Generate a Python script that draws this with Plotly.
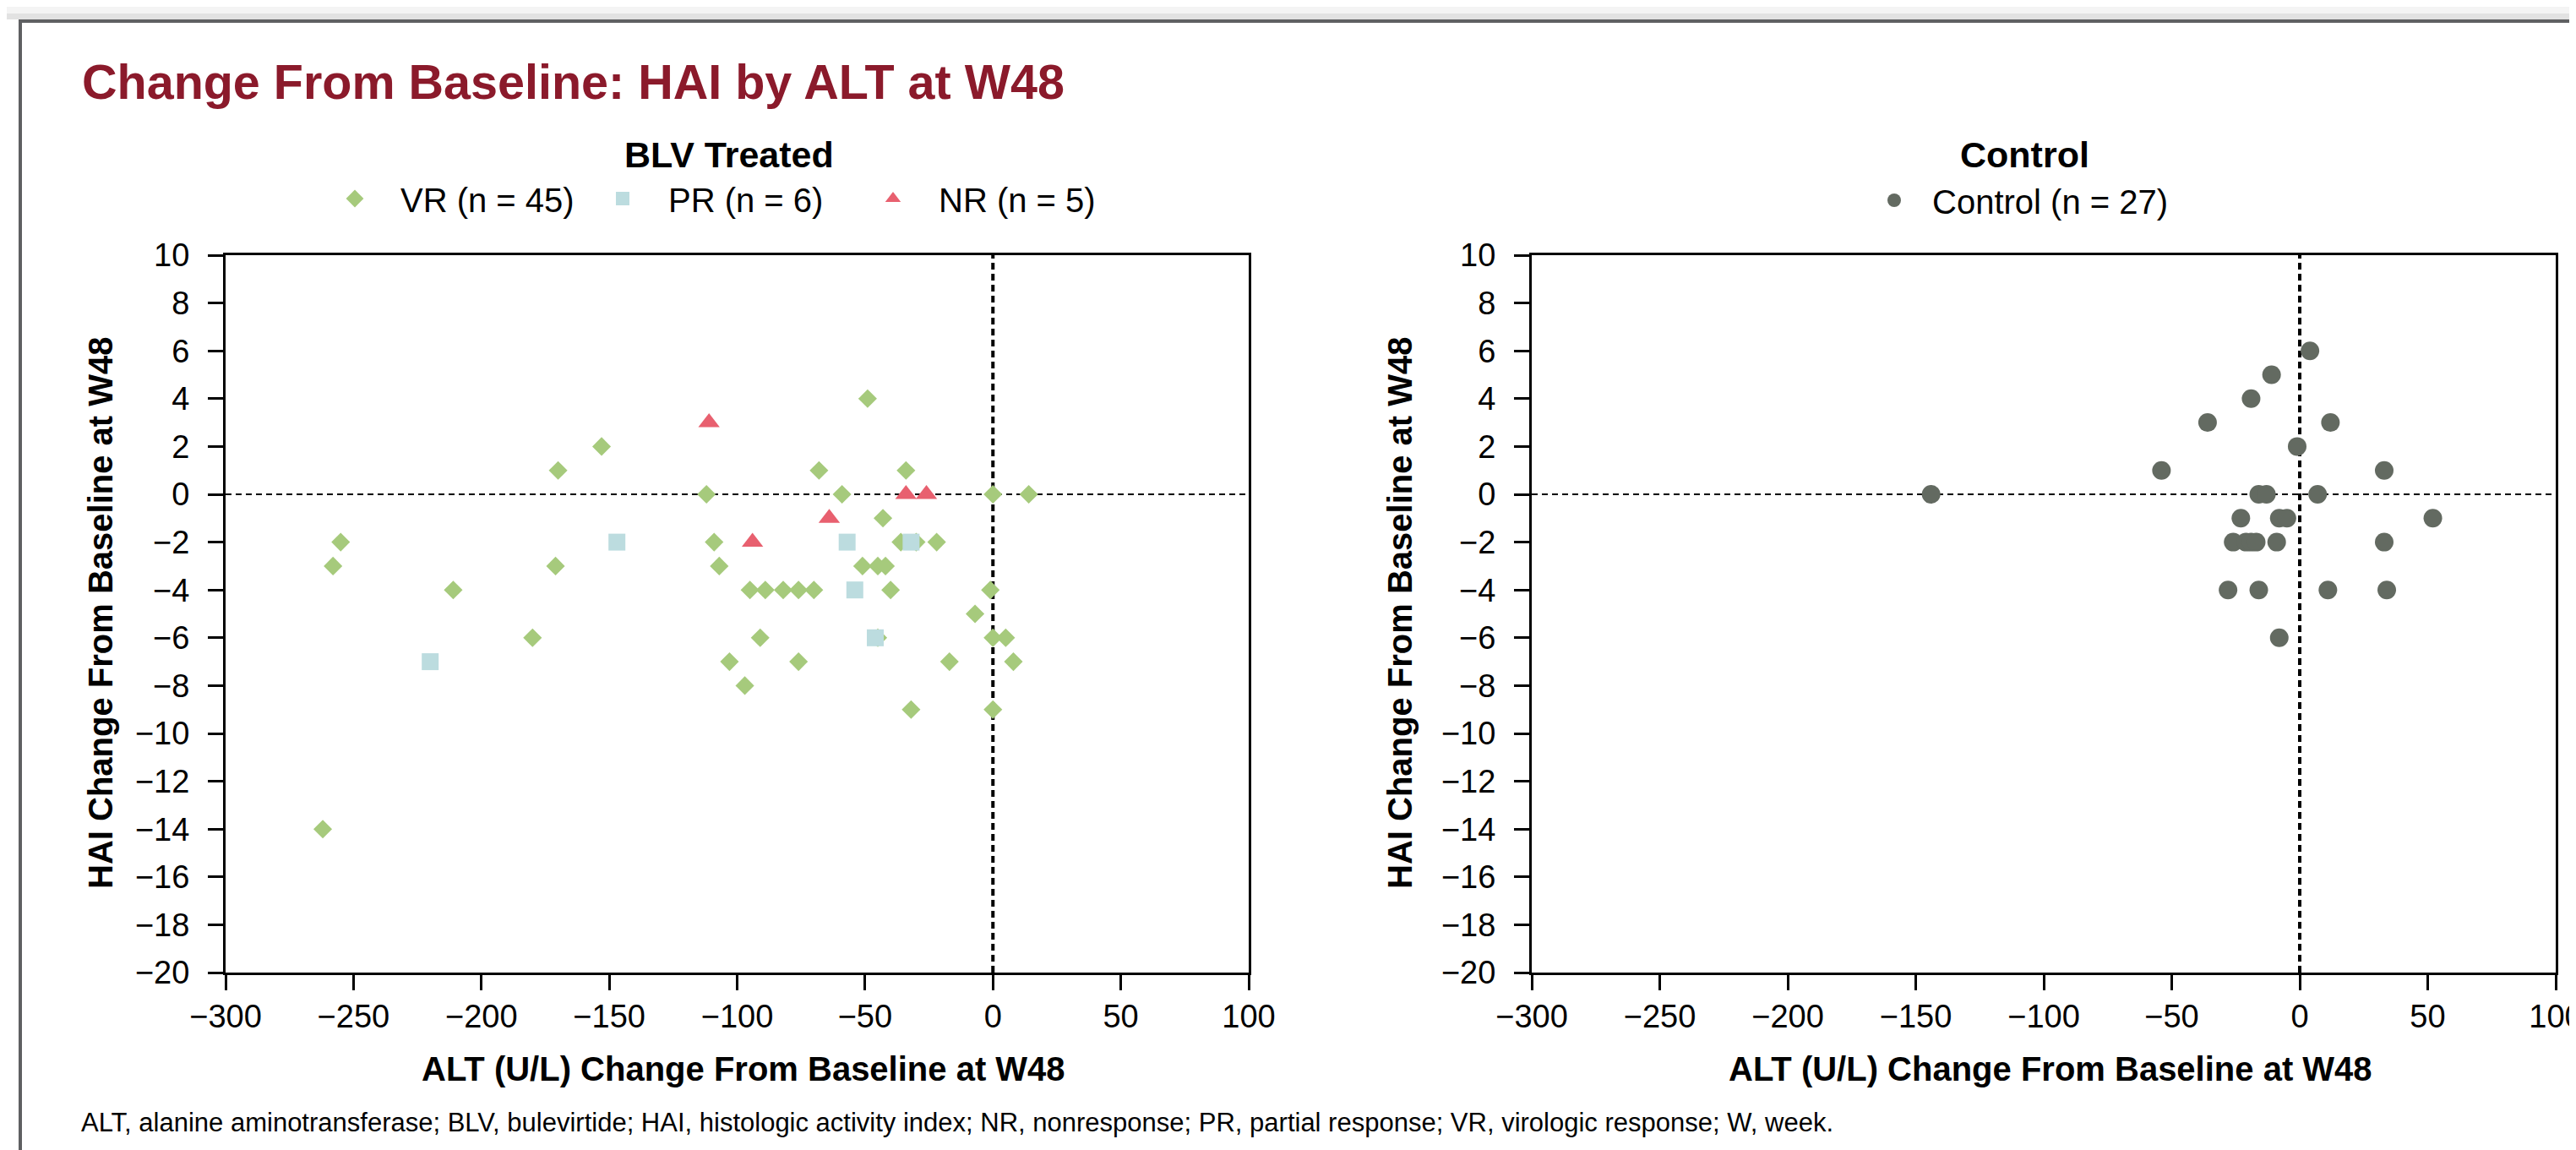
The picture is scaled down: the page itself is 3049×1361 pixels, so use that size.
import plotly.graph_objects as go

W, H = 3049, 1361

# ---------------- data ----------------
vr_alt = [-262, -255, -258, -211, -180, -170, -153, -171, -112, -109, -107,
          -95, -89, -82, -76, -70, -91, -103, -97, -49, -68, -34, -59, 0, 14,
          -43, -36, -30, -22, -51, -45, -42, -40, -1, -7, 0, 5, -76, -17, 8,
          -32, 0, -45]
vr_hai = [-14, -2, -3, -4, -6, 1, 2, -3, 0, -2, -3,
          -4, -4, -4, -4, -4, -6, -7, -8, 4, 1, 1, 0, 0, 0,
          -1, -2, -2, -2, -3, -3, -3, -4, -4, -5, -6, -6, -7, -7, -7,
          -9, -9, -6]

pr_alt = [-220, -147, -57, -32, -54, -46]
pr_hai = [-7, -2, -2, -2, -4, -6]

nr_alt = [-111, -94, -64, -34, -26]
nr_hai = [3, -2, -1, 0, 0]

ctrl_alt = [4, -11, -19, -36, 12, -1, 33, -54,
            -144, -16, -13, 7,
            -23, -8, -5, 52,
            -26, -21, -19, -17, -9, 33,
            -28, -16, 11, 34,
            -8]
ctrl_hai = [6, 5, 4, 3, 3, 2, 1, 1,
            0, 0, 0, 0,
            -1, -1, -1, -1,
            -2, -2, -2, -2, -2, -2,
            -4, -4, -4, -4,
            -6]

x_ticks = [-300, -250, -200, -150, -100, -50, 0, 50, 100]
y_ticks = list(range(-20, 11, 2))

names = ["VR (n = 45)", "PR (n = 6)", "NR (n = 5)", "Control (n = 27)"]

# ---------------- styling ----------------
FONT = "Liberation Sans, Arial, Helvetica, sans-serif"
C_VR = "#a6ca7c"
C_PR = "#bcdcdf"
C_NR = "#e8606f"
C_CTRL = "#636a61"
C_TITLE = "#8b1a2b"

def fx(p):
    return p / W

def fy(p):
    return 1 - p / H

fig = go.Figure()

fig.add_trace(go.Scatter(x=vr_alt, y=vr_hai, mode="markers", name=names[0],
                         marker=dict(symbol="diamond", size=17, color=C_VR),
                         xaxis="x", yaxis="y", legend="legend", legendwidth=204))
fig.add_trace(go.Scatter(x=pr_alt, y=pr_hai, mode="markers", name=names[1],
                         marker=dict(symbol="square", size=20, color=C_PR),
                         xaxis="x", yaxis="y", legend="legend", legendwidth=207))
fig.add_trace(go.Scatter(x=nr_alt, y=nr_hai, mode="markers", name=names[2],
                         marker=dict(symbol="triangle-up", size=22, color=C_NR),
                         xaxis="x", yaxis="y", legend="legend"))
fig.add_trace(go.Scatter(x=ctrl_alt, y=ctrl_hai, mode="markers", name=names[3],
                         marker=dict(symbol="circle", size=22, color=C_CTRL),
                         xaxis="x2", yaxis="y2", legend="legend2"))

ydom = [fy(1143), fy(294)]
axis_common = dict(showline=True, linewidth=3, linecolor="black", mirror=True,
                   ticks="outside", ticklen=18, tickwidth=2.5, tickcolor="black",
                   showgrid=False, zeroline=False,
                   tickfont=dict(family=FONT, size=38, color="black"))

fig.update_layout(
    width=W, height=H,
    margin=dict(l=0, r=0, t=0, b=0, autoexpand=False),
    paper_bgcolor="white", plot_bgcolor="white",
    font=dict(family=FONT, color="black"),
    xaxis=dict(domain=[fx(259), fx(1470)], range=[-300, 100], tickvals=x_ticks,
               anchor="y", ticklabelstandoff=-2, **axis_common),
    yaxis=dict(domain=ydom, range=[-20, 10], tickvals=y_ticks, anchor="x",
               ticklabelstandoff=14, **axis_common),
    xaxis2=dict(domain=[fx(1805), fx(3017)], range=[-300, 100], tickvals=x_ticks,
                anchor="y2", ticklabelstandoff=-2, **axis_common),
    yaxis2=dict(domain=ydom, range=[-20, 10], tickvals=y_ticks, anchor="x2",
                ticklabelstandoff=14, **axis_common),
    legend=dict(orientation="h", x=fx(358), y=fy(227), xanchor="left", yanchor="middle",
                font=dict(family=FONT, size=40, color="black"), itemwidth=98,
                bgcolor="rgba(0,0,0,0)", borderwidth=0, traceorder="normal"),
    legend2=dict(orientation="h", x=fx(2189), y=fy(229), xanchor="left", yanchor="middle",
                 font=dict(family=FONT, size=40, color="black"), itemwidth=80,
                 bgcolor="rgba(0,0,0,0)", borderwidth=0),
    showlegend=True,
)

# reference lines at 0
shapes = []
for xa, ya in (("x", "y"), ("x2", "y2")):
    shapes.append(dict(type="line", xref=xa, yref=ya, x0=-300, x1=100, y0=0, y1=0,
                       line=dict(color="black", width=2, dash="7px,5px"), layer="below"))
    shapes.append(dict(type="line", xref=xa, yref=ya, x0=0, x1=0, y0=-20, y1=10,
                       line=dict(color="black", width=4, dash="8px,5px"), layer="below"))

# outer frame (top and left edges visible)
shapes.append(dict(type="rect", xref="paper", yref="paper", x0=0, x1=1, y0=fy(10), y1=1,
                   fillcolor="#f4f4f4", line=dict(width=0), layer="below"))
shapes.append(dict(type="rect", xref="paper", yref="paper", x0=0, x1=1, y0=fy(15), y1=fy(8),
                   fillcolor="#e2e2e2", line=dict(width=0), layer="below"))
shapes.append(dict(type="rect", xref="paper", yref="paper", x0=fx(16), x1=1.02, y0=-0.02, y1=fy(17),
                   fillcolor="rgba(0,0,0,0)", line=dict(color="#5f6062", width=4), layer="below"))
fig.update_layout(shapes=shapes)

ann = []
ann.append(dict(text="<b>Change From Baseline: HAI by ALT at W48</b>", x=fx(87), y=fy(89),
                xref="paper", yref="paper", xanchor="left", yanchor="middle", showarrow=False,
                font=dict(family=FONT, size=57.5, color=C_TITLE)))
ann.append(dict(text="<b>BLV Treated</b>", x=fx(855), y=fy(175), xref="paper", yref="paper",
                xanchor="center", yanchor="middle", showarrow=False,
                font=dict(family=FONT, size=43, color="black")))
ann.append(dict(text="<b>Control</b>", x=fx(2388), y=fy(175), xref="paper", yref="paper",
                xanchor="center", yanchor="middle", showarrow=False,
                font=dict(family=FONT, size=43, color="black")))
for cx in (872, 2419):
    ann.append(dict(text="<b>ALT (U/L) Change From Baseline at W48</b>", x=fx(cx), y=fy(1257),
                    xref="paper", yref="paper", xanchor="center", yanchor="middle",
                    showarrow=False, font=dict(family=FONT, size=40, color="black")))
for cx in (111, 1649):
    ann.append(dict(text="<b>HAI Change From Baseline at W48</b>", x=fx(cx), y=fy(718),
                    xref="paper", yref="paper", xanchor="center", yanchor="middle",
                    textangle=-90, showarrow=False,
                    font=dict(family=FONT, size=40, color="black")))
ann.append(dict(text="ALT, alanine aminotransferase; BLV, bulevirtide; HAI, histologic activity index; "
                     "NR, nonresponse; PR, partial response; VR, virologic response; W, week.",
                x=fx(86), y=fy(1320), xref="paper", yref="paper", xanchor="left", yanchor="middle",
                showarrow=False, font=dict(family=FONT, size=31, color="black")))
fig.update_layout(annotations=ann)

fig.write_html("out.html")
